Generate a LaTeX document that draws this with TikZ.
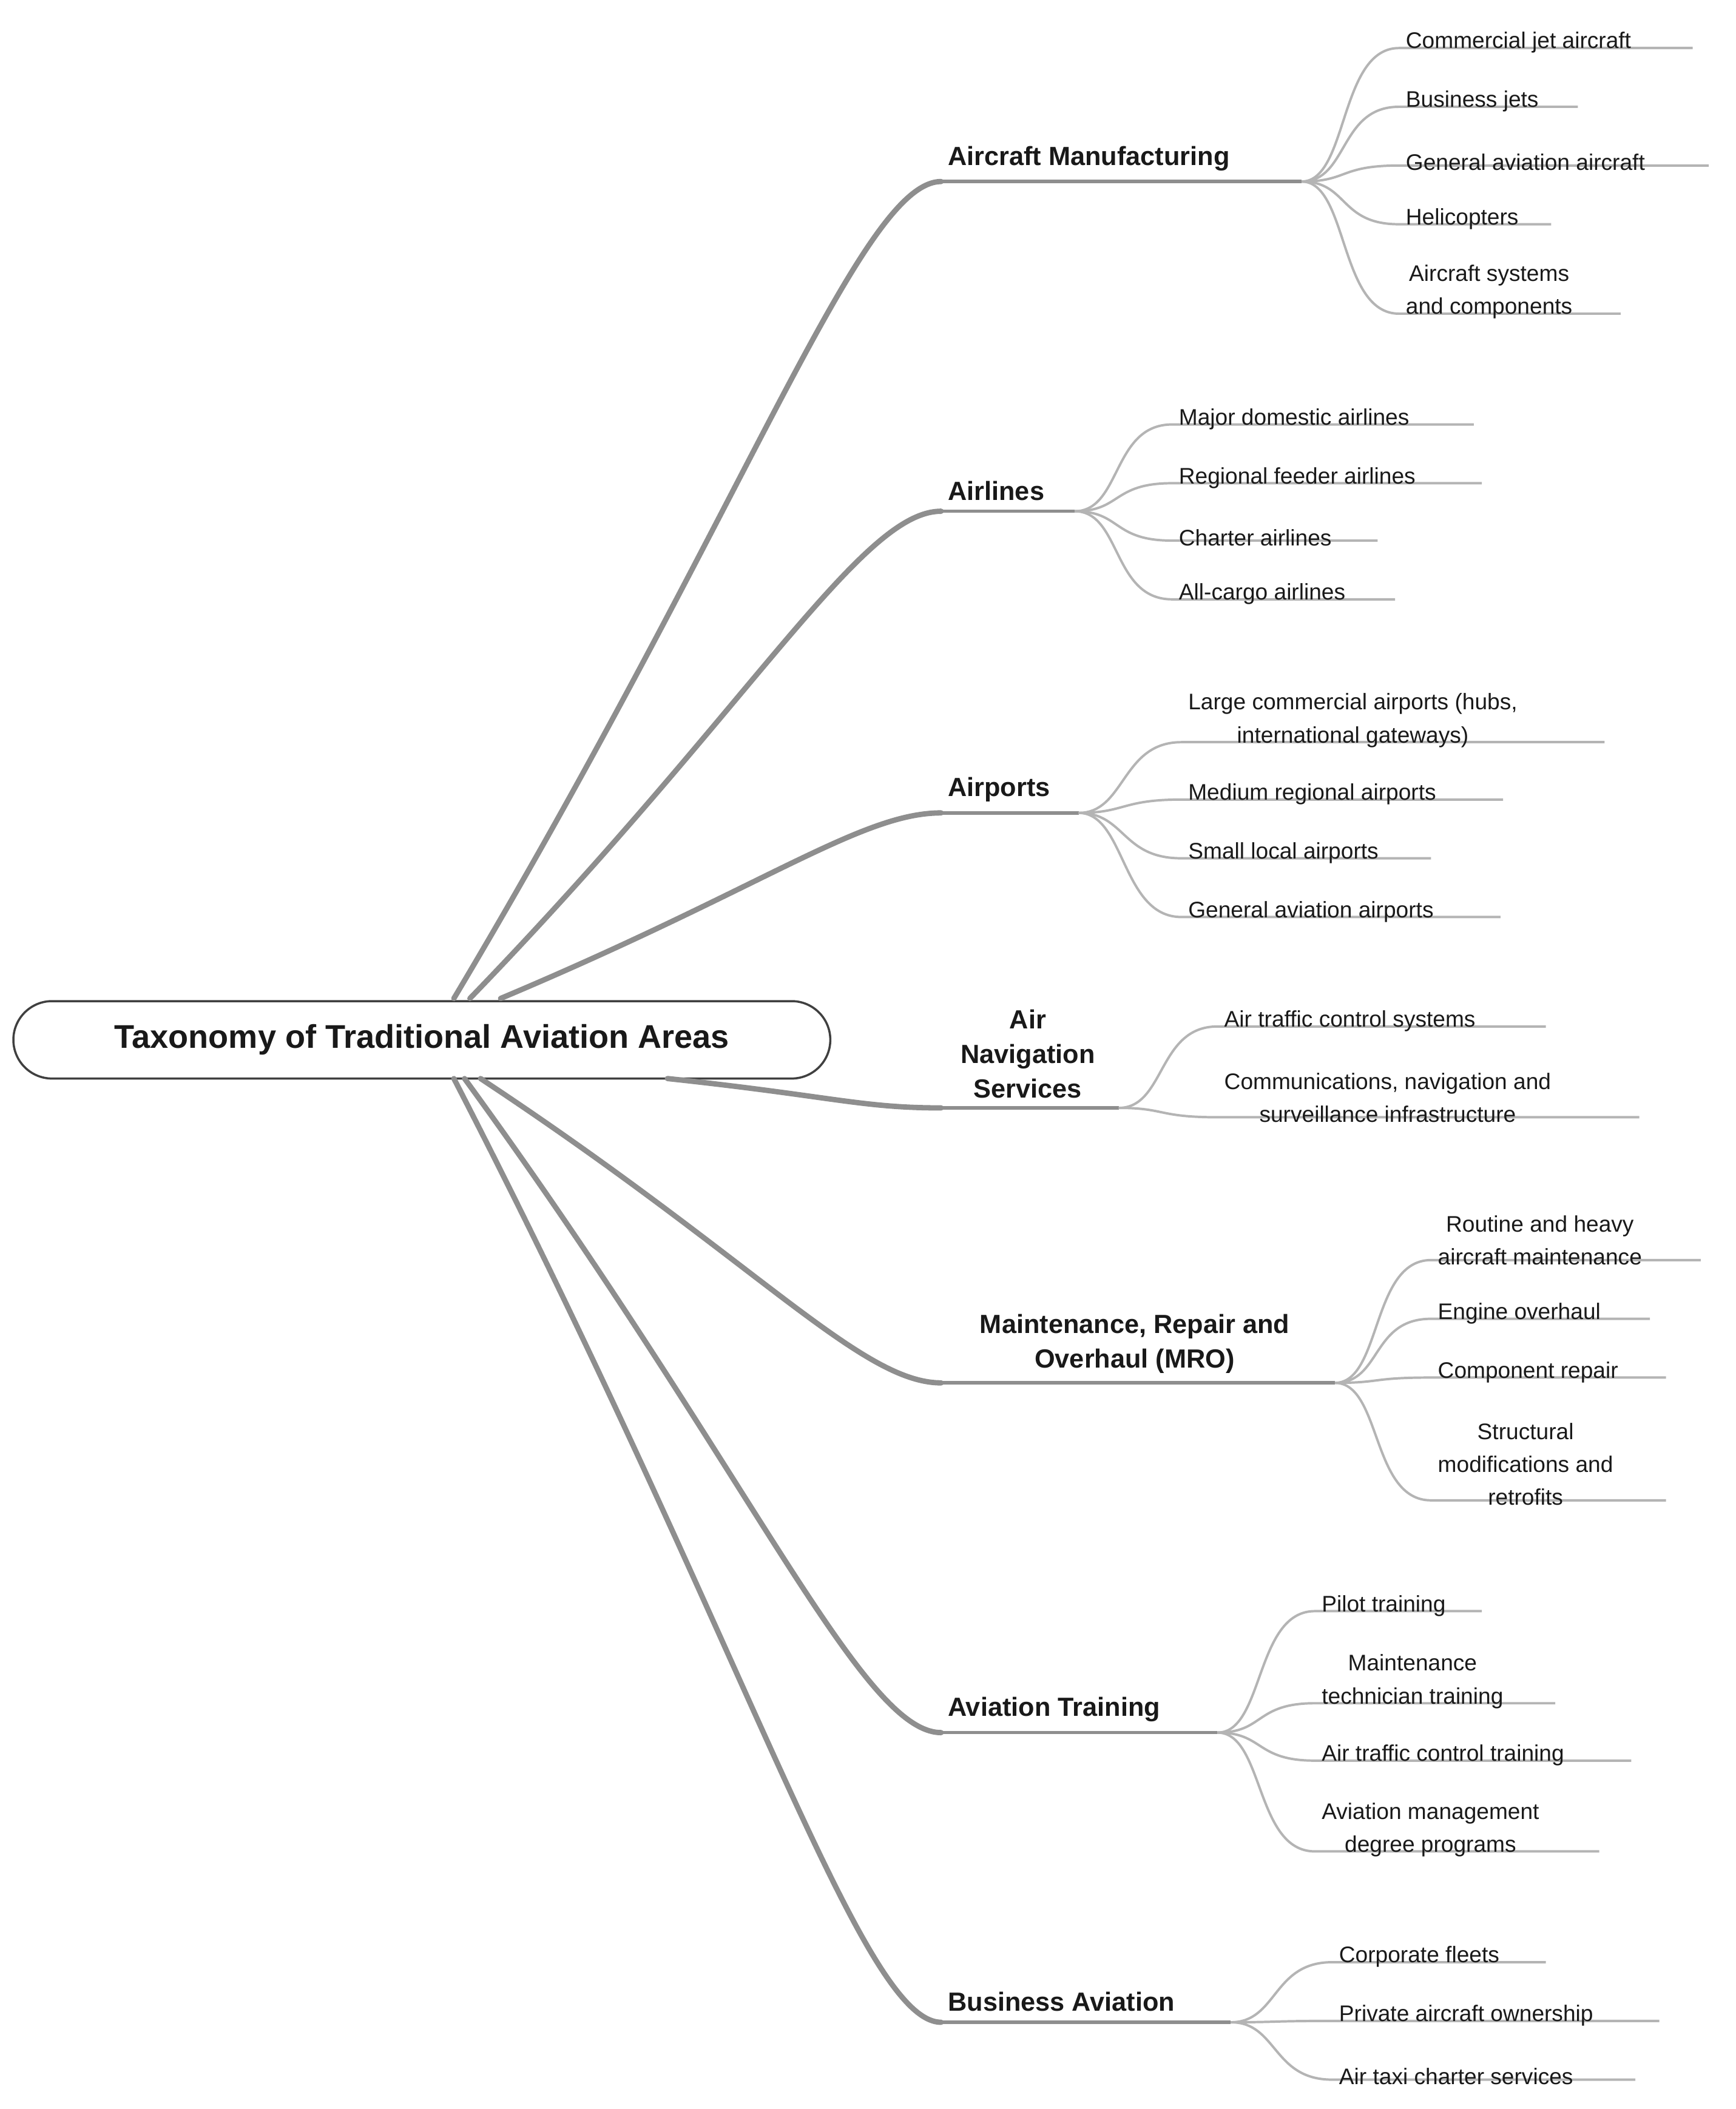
\documentclass[tikz,border=0pt]{standalone}
\usepackage{fontspec}
\setmainfont{Liberation Sans}
\usetikzlibrary{calc}
\definecolor{br}{HTML}{8E8E8E}
\definecolor{lf}{HTML}{B4B4B4}
\tikzset{
  leaf/.style={inner sep=0pt,align=center,font=\fontsize{24}{35}\selectfont,text=black!90},
  brn/.style={inner sep=0pt,align=center,font=\fontsize{28}{37}\selectfont\bfseries,text=black!90},
  leafline/.style={draw=lf,line width=0.09cm},
  brline/.style={draw=br,line width=0.2cm,line cap=round},
  brunder/.style={draw=br,line width=0.13cm}
}
\newcommand\lfn[6]{%
  \coordinate (#1s) at (#3,#4); \coordinate (#1e) at (#5,#4);
  \draw[leafline] (#2) .. controls ($(#2)+(35,0)$) and ($(#1s)+(-45,0)$) .. (#1s) -- (#1e);
  \node[leaf,anchor=south west] (#1) at ($(#1s)+(5,4)$) {#6};}
\newcommand\brn[8]{% name, rootpt, y, xs, xe, anchorpt, anchor, text
  \coordinate (#1s) at (#4,#3); \coordinate (#1e) at (#5,#3);
  \draw[brline] (#2) .. controls ($(#2)!0.6!(#1s)$) and ($(#1s)+(-60,0)$) .. (#1s);
  \draw[brunder] (#1s) -- (#1e);
  \node[brn,anchor=#7] (#1) at #6 {#8};}
\begin{document}
\begin{tikzpicture}[x=0.05cm,y=-0.05cm]
\useasboundingbox (0,0) rectangle (1300,1580);
\fill[white] (0,0) rectangle (1300,1580);
\node[draw=black!75,line width=0.08cm,rounded corners=1.45cm,minimum width=30.6cm,minimum height=2.9cm,
  font=\fontsize{35}{40}\selectfont\bfseries,text=black!90] (root) at (316,779) {Taxonomy of Traditional Aviation Areas};
\coordinate (r1) at (340,748); \coordinate (r2) at (352,748); \coordinate (r3) at (375,748);
\coordinate (r4) at (500,808); \coordinate (r5) at (360,808); \coordinate (r6) at (348,808); \coordinate (r7) at (340,808);
\brn{am}{r1}{136}{705}{975}{(710,128)}{south west}{Aircraft Manufacturing}
\brn{al}{r2}{383}{705}{805}{(710,375)}{south west}{Airlines}
\brn{ap}{r3}{609}{705}{808}{(710,601)}{south west}{Airports}
\brn{an}{r4}{830}{705}{838}{(770,823)}{south}{Air\\Navigation\\Services}
\brn{mr}{r5}{1036}{705}{1000}{(850,1029)}{south}{Maintenance, Repair and\\Overhaul (MRO)}
\brn{at}{r6}{1298}{705}{912}{(710,1290)}{south west}{Aviation Training}
\brn{ba}{r7}{1515}{705}{922}{(710,1507)}{south west}{Business Aviation}
% Aircraft manufacturing
\lfn{a1}{ame}{1048}{36}{1268}{Commercial jet aircraft}
\lfn{a2}{ame}{1048}{80}{1182}{Business jets}
\lfn{a3}{ame}{1048}{124}{1280}{General aviation aircraft}
\lfn{a4}{ame}{1048}{168}{1162}{Helicopters}
\lfn{a5}{ame}{1048}{235}{1214}{Aircraft systems\\and components}
% Airlines
\lfn{b1}{ale}{878}{318}{1104}{Major domestic airlines}
\lfn{b2}{ale}{878}{362}{1110}{Regional feeder airlines}
\lfn{b3}{ale}{878}{405}{1032}{Charter airlines}
\lfn{b4}{ale}{878}{449}{1045}{All-cargo airlines}
% Airports
\lfn{c1}{ape}{885}{556}{1202}{Large commercial airports (hubs,\\international gateways)}
\lfn{c2}{ape}{885}{599}{1126}{Medium regional airports}
\lfn{c3}{ape}{885}{643}{1072}{Small local airports}
\lfn{c4}{ape}{885}{687}{1124}{General aviation airports}
% ANS
\lfn{d1}{ane}{912}{769}{1158}{Air traffic control systems}
\lfn{d2}{ane}{912}{837}{1228}{Communications, navigation and\\surveillance infrastructure}
% MRO
\lfn{e1}{mre}{1072}{944}{1274}{Routine and heavy\\aircraft maintenance}
\lfn{e2}{mre}{1072}{988}{1236}{Engine overhaul}
\lfn{e3}{mre}{1072}{1032}{1248}{Component repair}
\lfn{e4}{mre}{1072}{1124}{1248}{Structural\\modifications and\\retrofits}
% Training
\lfn{f1}{ate}{985}{1207}{1110}{Pilot training}
\lfn{f2}{ate}{985}{1276}{1165}{Maintenance\\technician training}
\lfn{f3}{ate}{985}{1319}{1222}{Air traffic control training}
\lfn{f4}{ate}{985}{1387}{1198}{Aviation management\\degree programs}
% Business
\lfn{g1}{bae}{998}{1470}{1158}{Corporate fleets}
\lfn{g2}{bae}{998}{1514}{1243}{Private aircraft ownership}
\lfn{g3}{bae}{998}{1558}{1225}{Air taxi charter services}
\end{tikzpicture}
\end{document}
